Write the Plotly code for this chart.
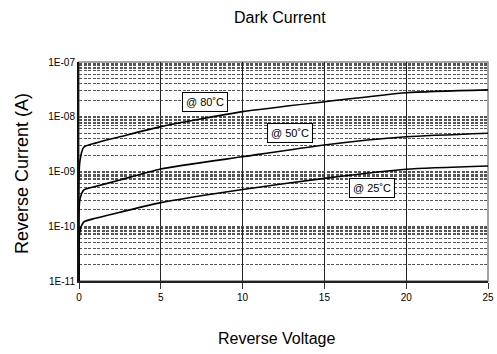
import plotly.graph_objects as go
import numpy as np

voltage = [0, 0.05, 0.3, 1, 2.5, 5, 10, 15, 20, 25]
i_80 = [1e-11, 1.5e-9, 2.8e-9, 3.3e-9, 4.3e-9, 6.6e-9, 1.24e-8, 1.88e-8, 2.75e-8, 3.1e-8]
i_50 = [1e-11, 3.0e-10, 4.6e-10, 5.3e-10, 7.0e-10, 1.11e-9, 1.86e-9, 3.05e-9, 4.3e-9, 5.0e-9]
i_25 = [1e-11, 8.0e-11, 1.2e-10, 1.4e-10, 1.8e-10, 2.7e-10, 4.7e-10, 7.5e-10, 1.1e-9, 1.26e-9]

labels = ["@ 80˚C", "@ 50˚C", "@ 25˚C"]
label_x = [7.7, 12.9, 17.9]
label_y = [10**-7.73, 10**-8.30, 10**-9.30]

major_vals = [1e-11, 1e-10, 1e-9, 1e-8, 1e-7]
major_text = ["1E-11", "1E-10", "1E-09", "1E-08", "1E-07"]
minor_vals = [m * d for d in [1e-11, 1e-10, 1e-9, 1e-8] for m in [2, 3, 4, 5, 6, 7, 7.5, 8, 8.5, 9, 9.5]]

FONT = "Liberation Sans, Arial, Helvetica"

fig = go.Figure()
for ys in (i_80, i_50, i_25):
    fig.add_trace(go.Scatter(x=voltage, y=ys, mode="lines",
                             line=dict(color="black", width=1.6, shape="spline", smoothing=0.6),
                             showlegend=False, hoverinfo="skip"))

for t, x, y in zip(labels, label_x, label_y):
    fig.add_annotation(x=x, y=np.log10(y), text=t, showarrow=False,
                       font=dict(family=FONT, size=11, color="black"),
                       bgcolor="white", bordercolor="black", borderwidth=1, borderpad=3)

# titles placed as text (plot area spans x 79..488, y 62..281 on the page)
fig.add_annotation(xref="paper", yref="paper", x=(279.5 - 79) / 409, y=1 + (62 - 17) / 219,
                   text="Dark Current", showarrow=False, xanchor="center", yanchor="middle",
                   font=dict(family=FONT, size=16, color="black"))
fig.add_annotation(xref="paper", yref="paper", x=(277 - 79) / 409, y=-(338 - 281) / 219,
                   text="Reverse Voltage", showarrow=False, xanchor="center", yanchor="middle",
                   font=dict(family=FONT, size=16, color="black"))
fig.add_annotation(xref="paper", yref="paper", x=-(79 - 22) / 409, y=(281 - 174) / 219,
                   text="Reverse Current (A)", showarrow=False, xanchor="center", yanchor="middle",
                   textangle=-90, font=dict(family=FONT, size=18, color="black"))

fig.update_layout(
    width=497, height=354,
    margin=dict(l=79, r=9, t=62, b=73, autoexpand=False),
    paper_bgcolor="white", plot_bgcolor="white",
    font=dict(family=FONT, color="black"),
)
fig.update_xaxes(range=[0, 25], tickvals=[0, 5, 10, 15, 20, 25],
                 showgrid=True, gridcolor="#222", gridwidth=1,
                 ticks="outside", ticklen=6, tickcolor="#333",
                 tickfont=dict(size=10), zeroline=False, automargin=False,
                 showline=True, linecolor="#222", linewidth=1.5, mirror=False)
fig.update_yaxes(type="log", range=[-11, -7], tickvals=major_vals, ticktext=major_text,
                 showgrid=True, gridcolor="#555", gridwidth=1, griddash="3px,1.5px",
                 minor=dict(tickvals=minor_vals, showgrid=True, gridcolor="#555",
                            gridwidth=1, griddash="3px,1.5px", ticks=""),
                 ticks="", tickfont=dict(size=10), zeroline=False, automargin=False,
                 showline=True, linecolor="#111", linewidth=2)
fig.add_shape(type="rect", xref="paper", yref="paper", x0=0, y0=0, x1=1, y1=1,
              line=dict(color="#888", width=1.5), layer="below")

fig.write_html("out.html", config={"displayModeBar": False},
               post_script="document.body.style.margin='0';document.body.style.overflow='hidden';")
